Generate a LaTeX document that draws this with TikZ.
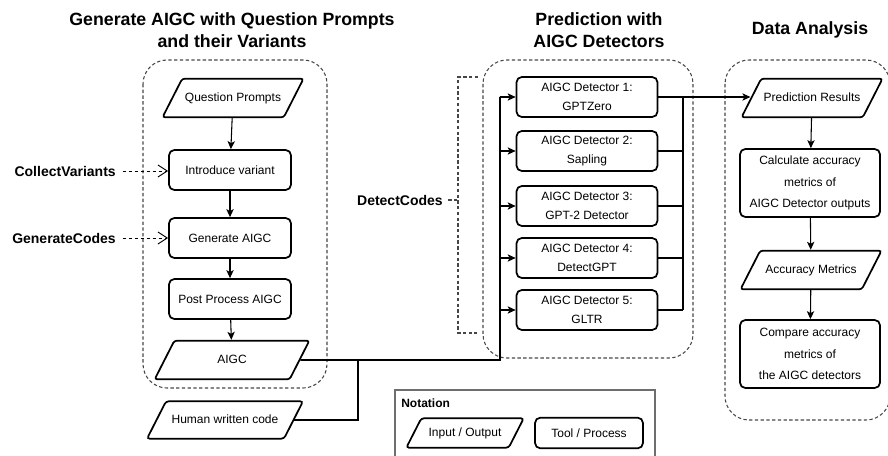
\documentclass[tikz,border=0pt]{standalone}
\usepackage{fontspec}
\setmainfont{Liberation Sans}
\usetikzlibrary{positioning, calc, arrows.meta, shapes.geometric}
\definecolor{FrameGray}{RGB}{70,70,70}
\definecolor{LegendGray}{RGB}{110,110,110}
\tikzset{
    procbox/.style={
        draw, rounded corners=4pt, line width=1.3pt, align=center,
        minimum width=91.5pt, minimum height=30pt, inner sep=1pt,
        font=\fontsize{9}{14}\selectfont
    },
    iobox/.style={
        draw, trapezium, trapezium left angle=63, trapezium right angle=117,
        trapezium stretches body=true, rounded corners=2pt, line width=1.3pt,
        align=center, inner xsep=1pt, inner ysep=10.2pt, text height=6.6pt,
        text depth=2pt, minimum width=105.75pt,
        font=\fontsize{9}{14}\selectfont
    },
    titletext/.style={
        align=center, font=\fontsize{13.3}{17}\selectfont\bfseries
    },
    steplabel/.style={
        font=\fontsize{10.5}{12}\selectfont\bfseries, inner sep=0pt
    },
    stageframe/.style={
        draw=FrameGray, line width=0.8pt, dash pattern=on 2.5pt off 1.8pt,
        rounded corners=18pt
    },
    flow/.style={
        -{Stealth[length=6pt, width=5.5pt, inset=1.5pt]}, line width=0.8pt
    },
    feed/.style={
        line width=1.3pt
    },
    wire/.style={
        line width=0.8pt
    },
    dasharrow/.style={
        -{Straight Barb[length=7pt, width=9pt]}, line width=0.7pt,
        dash pattern=on 2.5pt off 2pt
    },
    bracketline/.style={
        draw=FrameGray, line width=0.8pt, dash pattern=on 2.5pt off 1.8pt
    }
}

\begin{document}
\begin{tikzpicture}[x=0.75pt, y=-0.75pt]
\useasboundingbox (0,0) rectangle (888,456);
\clip (0,0) rectangle (888,456);
% stage frames and titles
\draw[stageframe] (143,60) rectangle (327,388);
\draw[stageframe] (483,60) rectangle (693,358);
\draw[stageframe] (725,60) rectangle (890,420);
\node[titletext] (tgen) at (232,30) {Generate AIGC with Question Prompts\\and their Variants};
\node[titletext] (tpred) at (599,30) {Prediction with\\AIGC Detectors};
\node[titletext] (tdata) at (810,30) {Data Analysis};

% generation
\node[iobox] (prompts) at (233,98) {Question Prompts};
\node[procbox] (variant) at (230,170) {Introduce variant};
\node[procbox] (genaigc) at (230,238) {Generate AIGC};
\node[procbox] (postproc) at (230,299) {Post Process AIGC};
\node[iobox, minimum width=116pt] (aigc) at (232,360) {AIGC};
\node[iobox, minimum width=117pt, inner ysep=9.7pt] (human) at (225,420) {Human written code};
\draw[flow] (prompts) -- (variant);
\draw[flow] (variant) -- (genaigc);
\draw[flow] (genaigc) -- (postproc);
\draw[flow] (postproc) -- (aigc);

\node[steplabel, anchor=east] (collect) at (116,171) {CollectVariants};
\node[steplabel, anchor=east] (gencodes) at (116,238) {GenerateCodes};
\draw[dasharrow] ([xshift=5pt]collect.east) -- (collect.east -| variant.west);
\draw[dasharrow] ([xshift=5pt]gencodes.east) -- (gencodes.east -| genaigc.west);

% detectors
\foreach \i/\y/\tool in {1/97/GPTZero, 2/151/Sapling, 3/206/GPT-2 Detector, 4/258/DetectGPT, 5/310/GLTR}
    \node[procbox, minimum width=105.75pt] (det\i) at (587,\y) {AIGC Detector \i:\\\tool};

\coordinate (bus) at (500,360);
\coordinate (mergept) at (358,360);
\draw[feed] (aigc.east) -- (bus) -- (bus |- det1.west);
\draw[feed] (human.east) -- (human.east -| mergept) -- (mergept);
\foreach \i in {1,...,5}
    \draw[flow] (bus |- det\i.west) -- (det\i.west);

\node[steplabel, anchor=east] (detect) at (443,200) {DetectCodes};
\coordinate (brtop) at (478,77);
\coordinate (brmid) at (458,200);
\coordinate (brbot) at (477,333);
\draw[bracketline] ([xshift=4pt]detect.east) -- (brmid);
\draw[bracketline] (brtop) -| (brmid) |- (brbot);

% analysis
\node[iobox] (pred) at (812,98) {Prediction Results};
\node[procbox, minimum width=105pt, minimum height=51pt, font=\fontsize{9}{16}\selectfont] (calc) at (810,183) {Calculate accuracy\\metrics of\\AIGC Detector outputs};
\node[iobox] (accm) at (811,270) {Accuracy Metrics};
\node[procbox, minimum width=105pt, minimum height=51pt, font=\fontsize{9}{16}\selectfont] (compare) at (810,354) {Compare accuracy\\metrics of\\the AIGC detectors};

\coordinate (outbus) at (683,97);
\foreach \i in {2,...,5}
    \draw[wire] (det\i.east) -- (det\i.east -| outbus);
\draw[wire] (outbus) -- (outbus |- det5.east);
\draw[flow] (det1.east) -- (det1.east -| pred.west);
\draw[flow] (pred) -- (calc);
\draw[flow] (calc) -- (accm);
\draw[flow] (accm) -- (compare);

% notation
\draw[draw=LegendGray, line width=0.8pt] (395,390) rectangle (655,470);
\node[font=\fontsize{9}{11}\selectfont\bfseries, anchor=west, inner sep=0pt] (nottitle) at (401,403) {Notation};
\node[iobox, minimum width=88pt, inner ysep=6.7pt] (legio) at (465,433) {Input / Output};
\node[procbox, minimum width=81pt, minimum height=23pt] (legproc) at (589,433) {Tool / Process};
\end{tikzpicture}
\end{document}
